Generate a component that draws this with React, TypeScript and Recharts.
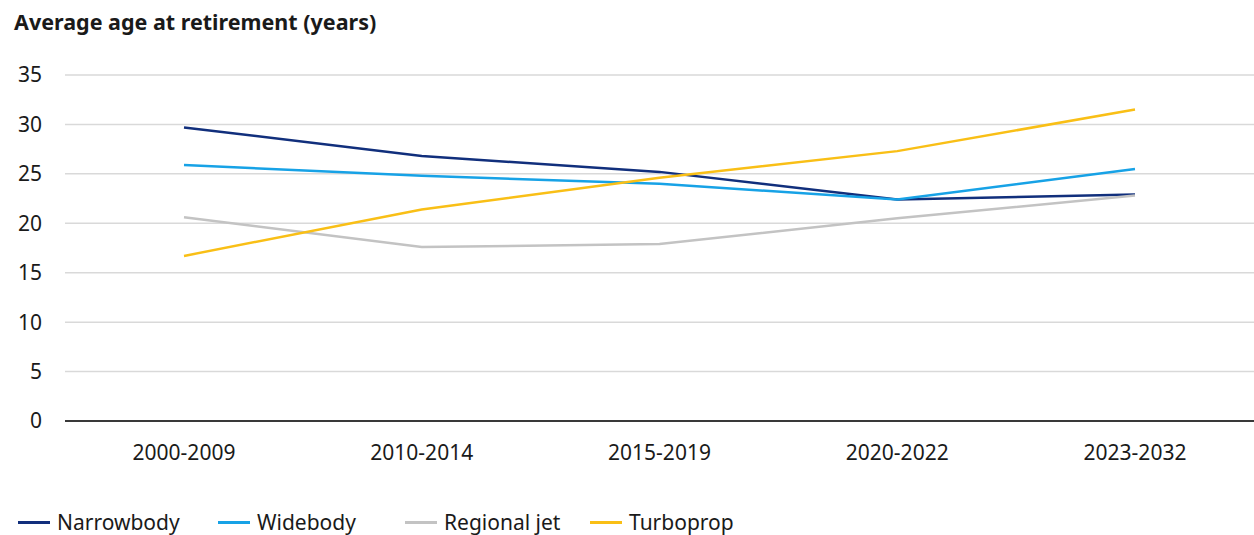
import React from 'react';
import { LineChart, Line, XAxis, YAxis, CartesianGrid } from 'recharts';

const periods = ['2000-2009', '2010-2014', '2015-2019', '2020-2022', '2023-2032'];
const narrowbody = [29.7, 26.8, 25.2, 22.4, 22.9];
const widebody = [25.9, 24.8, 24.0, 22.4, 25.5];
const regionalJet = [20.6, 17.6, 17.9, 20.5, 22.8];
const turboprop = [16.7, 21.4, 24.6, 27.3, 31.5];
const yTicks = [0, 5, 10, 15, 20, 25, 30, 35];

const SERIES = [
  { key: 'narrowbody', name: 'Narrowbody', color: '#112f7c' },
  { key: 'widebody', name: 'Widebody', color: '#17a2e6' },
  { key: 'regionalJet', name: 'Regional jet', color: '#c3c3c3' },
  { key: 'turboprop', name: 'Turboprop', color: '#f9bf16' },
];

// legend item left edges (px)
const LEGEND_X = [18, 218, 405, 590];

const data = periods.map((period, i) => ({
  period,
  narrowbody: narrowbody[i],
  widebody: widebody[i],
  regionalJet: regionalJet[i],
  turboprop: turboprop[i],
}));

const FONT = '"Noto Sans", "Open Sans", sans-serif';
const TEXT = '#1a1a1a';

export default function App() {
  return (
    <div style={{ position: 'absolute', left: 0, top: 0, width: 1254, height: 535, background: '#fff', fontFamily: FONT, overflow: 'hidden' }}>
      <div style={{ position: 'absolute', left: 14, top: 7, fontSize: 21.5, fontWeight: 700, color: TEXT, whiteSpace: 'nowrap' }}>
        Average age at retirement (years)
      </div>
      <LineChart width={1254} height={535} data={data} margin={{ top: 75, right: 0, bottom: 74, left: 0 }}>
        <CartesianGrid vertical={false} stroke="#d9d9d9" strokeWidth={1.5} />
        <XAxis
          dataKey="period"
          padding={{ left: 119, right: 119 }}
          axisLine={{ stroke: '#000', strokeWidth: 1.5 }}
          tickLine={false}
          tickMargin={18}
          height={40}
          tick={{ fill: TEXT, fontSize: 21, fontFamily: FONT }}
        />
        <YAxis
          domain={[0, 35]}
          ticks={yTicks}
          width={65}
          axisLine={false}
          tickLine={false}
          tickMargin={17}
          tick={{ fill: TEXT, fontSize: 21, fontFamily: FONT }}
        />
        {SERIES.map((s) => (
          <Line
            key={s.key}
            dataKey={s.key}
            name={s.name}
            stroke={s.color}
            strokeWidth={2.5}
            dot={false}
            isAnimationActive={false}
          />
        ))}
      </LineChart>
      {SERIES.map((s, i) => (
        <div
          key={s.key}
          style={{ position: 'absolute', left: LEGEND_X[i], top: 508, display: 'flex', alignItems: 'center', fontSize: 21, color: TEXT, whiteSpace: 'nowrap' }}
        >
          <span style={{ display: 'inline-block', width: 32, height: 3, background: s.color, marginRight: 7 }} />
          <span>{s.name}</span>
        </div>
      ))}
    </div>
  );
}
